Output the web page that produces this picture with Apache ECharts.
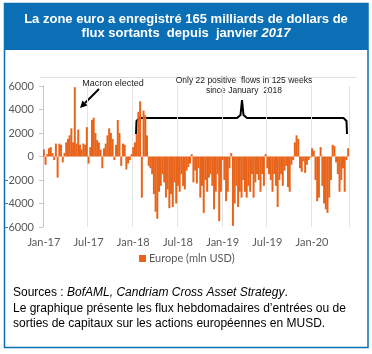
<!DOCTYPE html>
<html><head><meta charset="utf-8">
<script src="https://cdn.jsdelivr.net/npm/echarts@6/dist/echarts.min.js"></script>
<style>html,body{margin:0;padding:0;background:#fff}#c{width:372px;height:354px}</style>
</head><body><div id="c"></div>
<script>
// Weekly flows, Europe equity funds (mln USD), week 0 = first week of Jan 2017
const tickLabels = ['Jan-17','Jul-17','Jan-18','Jul-18','Jan-19','Jul-19','Jan-20'];
const flows2017 = [600,-700,200,700,800,300,-300,1100,-1800,1100,1000,-500,300,1200,1500,1800,2400,1200,5900,1100,2300,1000,600,1100,1000,2500,-600,800,3100,3300,2000,1400,1200,600,-1000,700,1100,1800,2400,2000,1500,-300,1000,3100,2000,-800,1100,1000,-1100,-600,-300,200];
const flows2018 = [800,1200,1900,3800,4700,-3500,3900,3500,1800,-800,-1000,-1500,-3200,-4700,-5300,-3000,-2500,-1500,-2200,-3500,-2800,-4400,-3200,-4300,-2200,-4000,-2500,-3000,-1500,-2500,-2800,-1200,-900,-600,200,-2200,-1200,-2300,-1000,-3500,-2500,-4800,-2000,-3000,-1800,-1500,-2500,-4500,-3000,-1500,-5500,-3000];
const flows2019 = [-300,-2000,-3800,-3000,-1000,300,-5900,-4000,-2500,-4300,-3000,-3500,-2000,-3000,-3500,-2500,-3000,-1500,-3500,-2200,-1500,-2000,-3000,-1500,-2500,200,-1000,-1500,-2000,-3000,-1500,-2500,-4300,-2000,-1500,-2500,-1200,-800,-2600,-3000,-700,-300,1200,1800,1500,-1000,-1300,-400,-1400,-700,-300,-100];
const flows2020 = [700,500,-2000,-3800,-3500,800,-2500,-4000,-4500,-4800,-3500,-2000,1000,900,-500,-1500,-3000,-2000,-1000,-3000,-300,700];
const seriesName = 'Europe (mln USD)';

const values = flows2017.concat(flows2018, flows2019, flows2020);
const categories = values.map((v, i) => 'W' + i);
const WEEKS_PER_TICK = 26;

const blue = '#0B6FB5';
const orange = '#E8641B';
const chart = echarts.init(document.getElementById('c'), null, {renderer: 'canvas'});
chart.setOption({
  animation: false,
  backgroundColor: '#fff',
  grid: {left: 43, top: 86, width: 306, height: 141, containLabel: false},
  legend: {
    data: [seriesName], left: 139, top: 253, padding: 0,
    icon: 'rect', itemWidth: 7, itemHeight: 7, itemGap: 2,
    textStyle: {fontFamily: 'Lato', fontSize: 11, color: '#595959', padding: [0,0,0,-2]}
  },
  xAxis: {
    type: 'category', data: categories, boundaryGap: true,
    axisLine: {show: false, onZero: false},
    axisTick: {show: false},
    axisLabel: {
      interval: (i) => i % WEEKS_PER_TICK === 0,
      formatter: (v, i) => tickLabels[i / WEEKS_PER_TICK] || '',
      margin: 10, fontFamily: 'Lato', fontSize: 11, color: '#595959'
    },
    splitLine: {show: true, interval: (i) => i % WEEKS_PER_TICK === 0 && i > 0,
      lineStyle: {color: '#E4E4E4', width: 1}}
  },
  yAxis: {
    type: 'value', min: -6000, max: 6000, interval: 2000,
    axisLine: {show: true, lineStyle: {color: '#C8C8C8'}},
    axisTick: {show: true, inside: false, length: 4, lineStyle: {color: '#C8C8C8'}},
    axisLabel: {margin: 9, fontFamily: 'Lato', fontSize: 11, color: '#595959', formatter: (v) => String(v)},
    splitLine: {show: false}
  },
  series: [{
    name: seriesName, type: 'bar', data: values,
    itemStyle: {color: orange}, barWidth: 2
  }],
  graphic: [
    {type: 'rect', shape: {x: 4, y: 3, width: 364, height: 47}, style: {fill: blue}, silent: true},
    {type: 'rect', shape: {x: 4.5, y: 3.5, width: 363.5, height: 344}, style: {fill: null, stroke: blue, lineWidth: 1.5}, silent: true},
    {type: 'text', left: 'center', top: 12, style: {
      text: 'La zone euro a enregistré 165 milliards de dollars de\n{n|flux sortants  depuis  janvier }{i|2017}',
      fill: '#fff', font: 'bold 13px "Liberation Sans", Arial', textAlign: 'center', lineHeight: 14,
      rich: {n: {font: 'bold 13px "Liberation Sans", Arial', fill: '#fff', lineHeight: 14},
             i: {font: 'italic bold 13px "Liberation Sans", Arial', fill: '#fff', lineHeight: 14}}
    }},
    {type: 'line', shape: {x1: 40, y1: 77.5, x2: 357, y2: 77.5}, style: {stroke: '#E0E0E0', lineWidth: 1}, silent: true},
    // Macron annotation
    {type: 'text', style: {x: 113, y: 84, text: 'Macron elected', font: '9px "Liberation Sans", Arial', fill: '#222', textAlign: 'center', textVerticalAlign: 'middle'}},
    {type: 'line', shape: {x1: 99, y1: 89, x2: 85, y2: 103}, style: {stroke: '#000', lineWidth: 2}},
    {type: 'polygon', shape: {points: [[80, 108], [87.5, 105.5], [82.5, 100.5]]}, style: {fill: '#000'}},
    // Bracket annotation
    {type: 'text', style: {x: 244, y: 81, text: 'Only 22 positive  flows in 125 weeks', font: '8.5px "Liberation Sans", Arial', fill: '#222', textAlign: 'center', textVerticalAlign: 'middle'}},
    {type: 'text', style: {x: 244, y: 91, text: 'since January  2018', font: '8.5px "Liberation Sans", Arial', fill: '#222', textAlign: 'center', textVerticalAlign: 'middle'}},
    {type: 'polyline', shape: {points: [[136, 134], [136.5, 121], [139.5, 118], [237, 118], [240.5, 115], [242, 100], [243.5, 115], [247, 118], [343.5, 118], [346.5, 121], [347, 134]]},
      style: {stroke: '#000', lineWidth: 2, fill: null}},
    // Footer
    {type: 'text', style: {x: 13, y: 293, text: '{n|Sources : }{i|BofAML, Candriam Cross Asset Strategy}{n|.}',
      textVerticalAlign: 'middle',
      rich: {n: {font: '12px "Liberation Sans", Arial', fill: '#000'}, i: {font: 'italic 12px "Liberation Sans", Arial', fill: '#000'}}}},
    {type: 'text', style: {x: 13, y: 309, text: 'Le graphique présente les flux hebdomadaires d\u2019entrées ou de', font: '12px "Liberation Sans", Arial', fill: '#000', textVerticalAlign: 'middle'}},
    {type: 'text', style: {x: 13, y: 324, text: 'sorties de capitaux sur les actions européennes en MUSD.', font: '12px "Liberation Sans", Arial', fill: '#000', textVerticalAlign: 'middle'}}
  ]
});
</script></body></html>
